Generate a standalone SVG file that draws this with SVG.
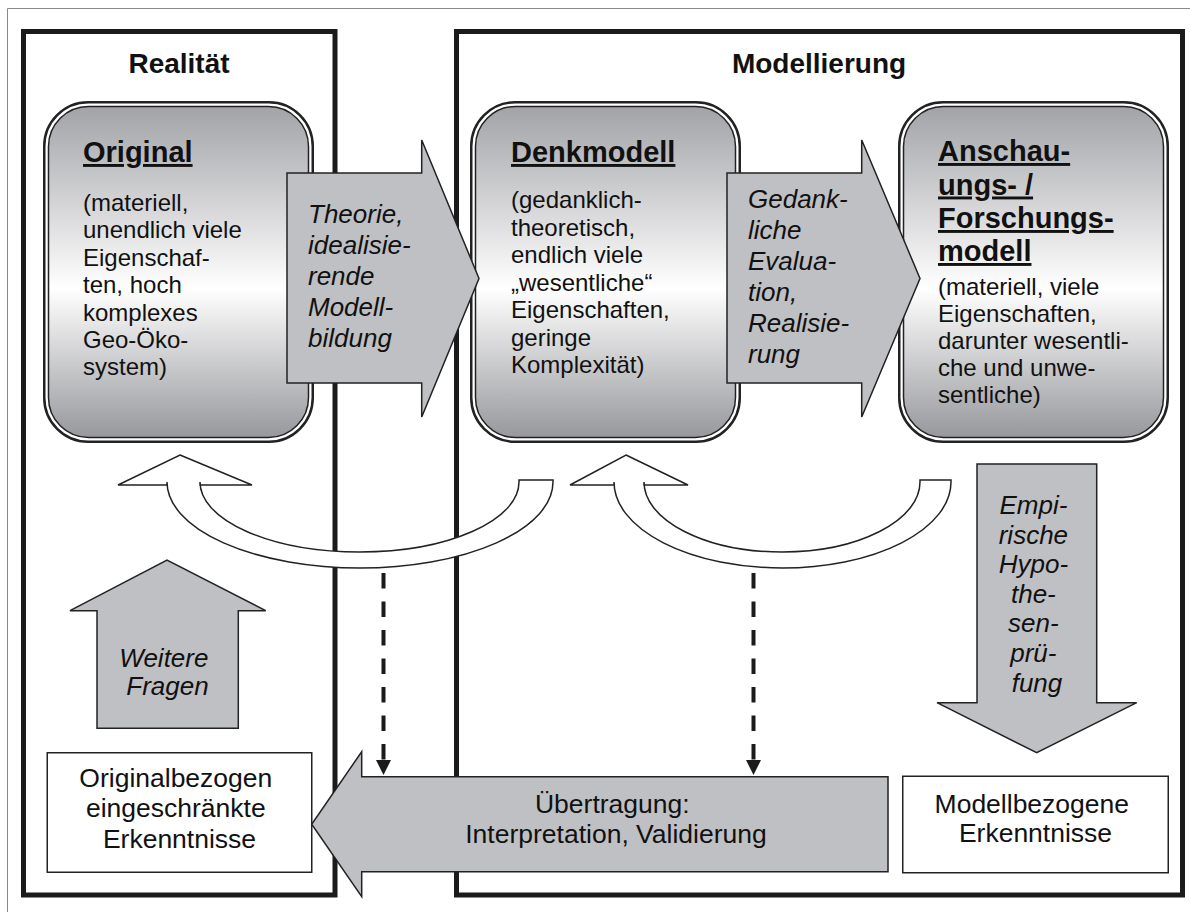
<svg xmlns="http://www.w3.org/2000/svg" width="1190" height="912" viewBox="0 0 1190 912">
  <defs>
    <linearGradient id="boxfill" x1="0" y1="0" x2="0" y2="1">
      <stop offset="0" stop-color="#a2a3a7"/>
      <stop offset="0.55" stop-color="#ffffff"/>
      <stop offset="1" stop-color="#97989c"/>
    </linearGradient>
  </defs>
  <style>
    text { font-family: "Liberation Sans", Arial, sans-serif; fill: #111; }
    .frame { fill: none; stroke: #1b1b1b; stroke-width: 5; }
    .title { font-size: 28px; font-weight: bold; text-anchor: middle; }
    .head { font-size: 29px; font-weight: bold; text-decoration: underline; }
    .body { font-size: 24px; }
    .lbl { font-size: 26px; font-style: italic; }
    .mid { text-anchor: middle; }
    .plain { font-size: 26.5px; text-anchor: middle; }
    .outer { fill: #fff; stroke: #222; stroke-width: 2.5; }
    .inner { fill: url(#boxfill); stroke: #222; stroke-width: 1.5; }
    .box { fill: #fff; stroke: #222; stroke-width: 1.5; }
    .block { fill: #bfc0c3; stroke: #222; stroke-width: 1.5; }
    .curve { fill: #fff; stroke: #222; stroke-width: 1.5; }
    .dash { fill: none; stroke: #1b1b1b; stroke-width: 4; stroke-dasharray: 15.5 13; }
    .tip { fill: #1b1b1b; }
  </style>

  <!-- page border -->
  <path d="M7.5,912 V8.5 H1190" fill="none" stroke="#888" stroke-width="1"/>

  <!-- the two areas -->
  <g id="frame-realitaet">
    <rect class="frame" x="23.5" y="31.5" width="311.5" height="863.5"/>
    <text class="title" x="179" y="72.5">Realität</text>
  </g>
  <g id="frame-modellierung">
    <rect class="frame" x="456.5" y="31.5" width="726" height="863.5"/>
    <text class="title" x="819" y="72.5">Modellierung</text>
  </g>

  <!-- model stages -->
  <g id="node-original">
    <rect class="outer" x="44.25" y="102.25" width="268.5" height="339.5" rx="44"/>
    <rect class="inner" x="48.5" y="106.5" width="260" height="331" rx="40"/>
    <text class="head" x="83" y="162">Original</text>
    <text class="body" x="83">
      <tspan x="83" y="211">(materiell,</tspan>
      <tspan x="83" y="238.4">unendlich viele</tspan>
      <tspan x="83" y="265.8">Eigenschaf-</tspan>
      <tspan x="83" y="293.2">ten, hoch</tspan>
      <tspan x="83" y="320.6">komplexes</tspan>
      <tspan x="83" y="348">Geo-Öko-</tspan>
      <tspan x="83" y="375.4">system)</tspan>
    </text>
  </g>

  <g id="node-denkmodell">
    <rect class="outer" x="471.25" y="102.25" width="268.5" height="339.5" rx="44"/>
    <rect class="inner" x="475.5" y="106.5" width="260" height="331" rx="40"/>
    <text class="head" x="511" y="162">Denkmodell</text>
    <text class="body">
      <tspan x="511" y="208">(gedanklich-</tspan>
      <tspan x="511" y="235.5">theoretisch,</tspan>
      <tspan x="511" y="263">endlich viele</tspan>
      <tspan x="511" y="290.5">„wesentliche“</tspan>
      <tspan x="511" y="318">Eigenschaften,</tspan>
      <tspan x="511" y="345.5">geringe</tspan>
      <tspan x="511" y="373">Komplexität)</tspan>
    </text>
  </g>

  <g id="node-anschauungsmodell">
    <rect class="outer" x="899.25" y="102.25" width="268.5" height="339.5" rx="44"/>
    <rect class="inner" x="903.5" y="106.5" width="260" height="331" rx="40"/>
    <text class="head" x="938" y="161">Anschau-</text>
    <text class="head" x="938" y="194.5">ungs- /</text>
    <text class="head" x="938" y="228">Forschungs-</text>
    <text class="head" x="938" y="261">modell</text>
    <text class="body">
      <tspan x="938" y="295">(materiell, viele</tspan>
      <tspan x="938" y="322">Eigenschaften,</tspan>
      <tspan x="938" y="349">darunter wesentli-</tspan>
      <tspan x="938" y="376">che und unwe-</tspan>
      <tspan x="938" y="403">sentliche)</tspan>
    </text>
  </g>

  <!-- results -->
  <g id="node-originalbezogen">
    <rect class="box" x="47.25" y="752.75" width="264.5" height="119.5"/>
    <text class="plain">
      <tspan x="179.5" y="787">Originalbezogen</tspan>
      <tspan x="179.5" y="817">eingeschränkte</tspan>
      <tspan x="179.5" y="847.5">Erkenntnisse</tspan>
    </text>
  </g>
  <g id="node-modellbezogen">
    <rect class="box" x="902.75" y="776.25" width="265.5" height="96.5"/>
    <text class="plain">
      <tspan x="1035.5" y="812.5">Modellbezogene</tspan>
      <tspan x="1035.5" y="842">Erkenntnisse</tspan>
    </text>
  </g>

  <!-- connectors -->
  <g id="connectors">
    <!-- Theorie, idealisierende Modellbildung -->
    <g id="arrow-theorie">
      <polygon class="block" points="287,173 421.7,173 421.7,140 479,278.5 421.7,417 421.7,383 287,383"/>
      <text class="lbl">
        <tspan x="308" y="222.5">Theorie,</tspan>
        <tspan x="308" y="253.5">idealisie-</tspan>
        <tspan x="308" y="284.5">rende</tspan>
        <tspan x="308" y="315.5">Modell-</tspan>
        <tspan x="308" y="346.5">bildung</tspan>
      </text>
    </g>

    <!-- Gedankliche Evaluation, Realisierung -->
    <g id="arrow-evaluation">
      <polygon class="block" points="727,173 861.7,173 861.7,140 920,278.5 861.7,417 861.7,383 727,383"/>
      <text class="lbl">
        <tspan x="748" y="207.5">Gedank-</tspan>
        <tspan x="748" y="238.5">liche</tspan>
        <tspan x="748" y="269.5">Evalua-</tspan>
        <tspan x="748" y="300.5">tion,</tspan>
        <tspan x="748" y="331.5">Realisie-</tspan>
        <tspan x="748" y="362.5">rung</tspan>
      </text>
    </g>

    <!-- feedback loops -->
    <path id="loop-original" class="curve"
          d="M180,455 L252,485 L200,485 L200,482 A159.5,70 0 0 0 519,482 L519,480 L553,480 L553,482 A193,86 0 0 1 167,482 L167,485 L118,485 Z"/>
    <path id="loop-denkmodell" class="curve"
          d="M626,455 L688,485 L644,485 L644,482 A138,70 0 0 0 920,482 L920,480 L951,480 L951,482 A168.5,86 0 0 1 614,482 L614,485 L570,485 Z"/>

    <!-- Empirische Hypothesenprüfung -->
    <g id="arrow-empirie">
      <polygon class="block" points="977,464 1096.7,464 1096.7,702.7 1136.7,702.7 1036.7,752.7 937,702.7 977,702.7"/>
      <text class="lbl mid">
        <tspan x="1037" y="514">Empi-</tspan>
        <tspan x="1037" y="543.5">rische</tspan>
        <tspan x="1037" y="573">Hypo-</tspan>
        <tspan x="1037" y="602.5">the-</tspan>
        <tspan x="1037" y="632">sen-</tspan>
        <tspan x="1037" y="662">prü-</tspan>
        <tspan x="1037" y="691.5">fung</tspan>
      </text>
    </g>

    <!-- Weitere Fragen -->
    <g id="arrow-fragen">
      <polygon class="block" points="97,728.3 97,610.7 70,610.7 167,560 265.7,610.7 238.3,610.7 238.3,728.3"/>
      <text class="lbl mid">
        <tspan x="167.5" y="666.5">Weitere</tspan>
        <tspan x="167.5" y="695">Fragen</tspan>
      </text>
    </g>

    <!-- dashed links down to the transfer -->
    <line class="dash" x1="383.5" y1="573" x2="383.5" y2="760"/>
    <polygon class="tip" points="376,760 391,760 383.5,775"/>
    <line class="dash" x1="753.5" y1="573" x2="753.5" y2="760"/>
    <polygon class="tip" points="746,760 761,760 753.5,775"/>

    <!-- Übertragung -->
    <g id="arrow-uebertragung">
      <polygon class="block" points="888,776.7 888,871.7 361.7,871.7 361.7,896.7 311.7,824.2 361.7,751.7 361.7,776.7"/>
      <text class="plain">
        <tspan x="616" y="812.7">Übertragung:</tspan>
        <tspan x="616" y="842.7">Interpretation, Validierung</tspan>
      </text>
    </g>
  </g>
</svg>
